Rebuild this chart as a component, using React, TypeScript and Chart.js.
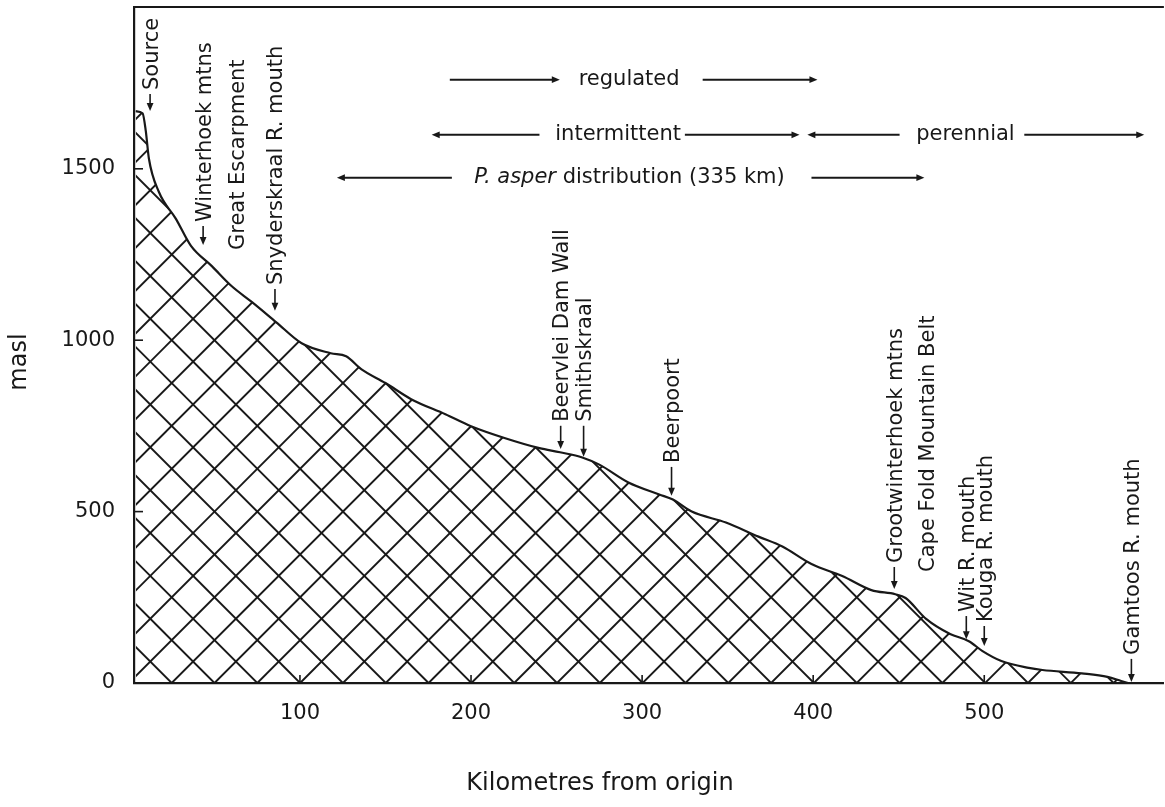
import React, { useEffect, useRef } from "react";
import { Chart, registerables } from "chart.js";
Chart.register(...registerables);

// River long profile (km from origin, metres above sea level)
const profileKm = [4, 8, 9.9, 11.7, 17.5, 27.5, 36.3, 48.5, 60, 72, 86, 101, 118, 127, 136, 150, 165, 185, 200, 220, 240, 252, 265, 275, 292, 310, 318, 329, 349, 368, 382, 399, 417, 434, 448, 454, 466, 480, 491, 499, 510, 526, 534, 557, 572, 580, 584];
const profileElev = [1668, 1662, 1610, 1530, 1433, 1354, 1275, 1216, 1158, 1111, 1053, 991, 962, 953, 915, 875, 828, 784, 749, 714, 685, 673, 658, 637, 585, 550, 535, 500, 468, 427, 398, 347, 312, 271, 259, 248, 187, 143, 122, 93, 64, 44, 38, 28, 18, 6, 0];

const xTicks = [100, 200, 300, 400, 500];
const yTicks = [0, 500, 1000, 1500];

// Site labels (rotated), arrow tip elevation (null = no arrow), text start elevation
const siteLabels = ["Source", "Winterhoek mtns", "Great Escarpment", "Snyderskraal R. mouth", "Beervlei Dam Wall", "Smithskraal", "Beerpoort", "Grootwinterhoek mtns", "Cape Fold Mountain Belt", "Wit R. mouth", "Kouga R. mouth", "Gamtoos R. mouth"];
const siteKm = [12.4, 43.4, 62.8, 85.4, 252.4, 265.8, 317.2, 447.4, 466, 489.5, 500, 586];
const siteTipElev: (number | null)[] = [1666, 1275, null, 1083, 680, 657, 543, 271, null, 125, 105, 0];
const siteTextElev = [1730, 1345, 1263, 1161, 762, 762, 642, 350, 324, 207, 178, 82];

// Range annotations at the top
const rangeTexts = ["regulated", "intermittent", "perennial", "distribution (335 km)"];
const rangeItalicPrefix = ["", "", "", "P. asper "];
const rangeTextKm = [292.4, 286, 489, 292.6];
const rangeTextElev = [1760, 1599, 1599, 1474];
const rangeArrowFromKm = [187.6, 335.4, 240, 325, 450.5, 523.4, 188.8, 399];
const rangeArrowToKm = [251.9, 402.5, 177, 392, 396.6, 593.5, 121.6, 465];
const rangeArrowElev = [1760, 1760, 1599, 1599, 1599, 1599, 1474, 1474];

const INK = "#181818";
const FONT = "'DejaVu Sans', sans-serif";

function arrow(ctx: CanvasRenderingContext2D, x1: number, y1: number, x2: number, y2: number) {
  const ang = Math.atan2(y2 - y1, x2 - x1);
  const hl = 8, hw = 3.4;
  ctx.beginPath();
  ctx.moveTo(x1, y1);
  ctx.lineTo(x2 - Math.cos(ang) * (hl - 1), y2 - Math.sin(ang) * (hl - 1));
  ctx.stroke();
  ctx.beginPath();
  ctx.moveTo(x2, y2);
  ctx.lineTo(x2 - Math.cos(ang) * hl - Math.sin(ang) * hw, y2 - Math.sin(ang) * hl + Math.cos(ang) * hw);
  ctx.lineTo(x2 - Math.cos(ang) * hl + Math.sin(ang) * hw, y2 - Math.sin(ang) * hl - Math.cos(ang) * hw);
  ctx.closePath();
  ctx.fill();
}

const decorPlugin = {
  id: "decor",
  afterDraw(chart: any) {
    const ctx: CanvasRenderingContext2D = chart.ctx;
    const xs = chart.scales.x, ys = chart.scales.y;
    const ca = chart.chartArea;
    ctx.save();
    ctx.strokeStyle = INK;
    ctx.fillStyle = INK;
    // top border
    ctx.lineWidth = 2;
    ctx.beginPath();
    ctx.moveTo(ca.left - 1, ca.top);
    ctx.lineTo(ca.right, ca.top);
    ctx.stroke();
    // inward ticks
    ctx.lineWidth = 1.6;
    xTicks.forEach((v) => {
      const x = xs.getPixelForValue(v);
      ctx.beginPath();
      ctx.moveTo(x, ca.bottom);
      ctx.lineTo(x, ca.bottom - 8);
      ctx.stroke();
    });
    yTicks.forEach((v) => {
      if (v === 0) return;
      const y = ys.getPixelForValue(v);
      ctx.beginPath();
      ctx.moveTo(ca.left, y);
      ctx.lineTo(ca.left + 9, y);
      ctx.stroke();
    });

    // site labels
    ctx.font = `21px ${FONT}`;
    siteLabels.forEach((lab, i) => {
      const x = xs.getPixelForValue(siteKm[i]);
      const yText = ys.getPixelForValue(siteTextElev[i]);
      const tip = siteTipElev[i];
      if (tip !== null) {
        ctx.lineWidth = 1.6;
        arrow(ctx, x, yText + 4, x, ys.getPixelForValue(tip) - 1);
      }
      ctx.save();
      ctx.translate(x + 2, yText);
      ctx.rotate(-Math.PI / 2);
      ctx.textAlign = "left";
      ctx.textBaseline = "middle";
      ctx.fillText(lab, 0, 0);
      ctx.restore();
    });

    // range arrows
    ctx.lineWidth = 2;
    rangeArrowFromKm.forEach((f, i) => {
      const y = ys.getPixelForValue(rangeArrowElev[i]);
      arrow(ctx, xs.getPixelForValue(f), y, xs.getPixelForValue(rangeArrowToKm[i]), y);
    });
    // range texts
    ctx.textBaseline = "middle";
    ctx.textAlign = "left";
    rangeTexts.forEach((t, i) => {
      const pre = rangeItalicPrefix[i];
      ctx.font = `italic 21px ${FONT}`;
      const wPre = pre ? ctx.measureText(pre).width : 0;
      ctx.font = `21px ${FONT}`;
      const wMain = ctx.measureText(t).width;
      const cx = xs.getPixelForValue(rangeTextKm[i]);
      const y = ys.getPixelForValue(rangeTextElev[i]);
      let x0 = cx - (wPre + wMain) / 2;
      if (pre) {
        ctx.font = `italic 21px ${FONT}`;
        ctx.fillText(pre, x0, y);
        x0 += wPre;
        ctx.font = `21px ${FONT}`;
      }
      ctx.fillText(t, x0, y);
    });

    // axis titles
    ctx.font = `24px ${FONT}`;
    ctx.textAlign = "center";
    ctx.textBaseline = "alphabetic";
    ctx.fillText("Kilometres from origin", 600, 790);
    ctx.save();
    ctx.translate(20, 362);
    ctx.rotate(-Math.PI / 2);
    ctx.textBaseline = "middle";
    ctx.fillText("masl", 0, 0);
    ctx.restore();
    ctx.restore();
  },
};

function makeHatch(chart: any): CanvasPattern | string {
  const xs = chart.scales.x, ys = chart.scales.y;
  const W = chart.width, H = chart.height;
  const c = document.createElement("canvas");
  c.width = W;
  c.height = H;
  const g = c.getContext("2d");
  if (!g) return "transparent";
  const x0 = xs.getPixelForValue(0);
  const y0 = ys.getPixelForValue(0);
  const px = xs.getPixelForValue(25) - x0;
  const py = y0 - ys.getPixelForValue(125);
  const k = px / py;
  g.strokeStyle = INK;
  g.lineWidth = 1.9;
  for (let n = -60; n <= 60; n++) {
    const bx = x0 + n * px;
    g.beginPath();
    g.moveTo(bx + (y0 - 0) * k, 0);
    g.lineTo(bx + (y0 - H) * k, H);
    g.stroke();
    g.beginPath();
    g.moveTo(bx - (y0 - 0) * k, 0);
    g.lineTo(bx - (y0 - H) * k, H);
    g.stroke();
  }
  return chart.ctx.createPattern(c, "no-repeat") || "transparent";
}

export default function App() {
  const ref = useRef<HTMLCanvasElement | null>(null);
  useEffect(() => {
    document.body.style.margin = "0";
    document.body.style.background = "#ffffff";
    const canvas = ref.current;
    if (!canvas) return;
    const tickFont = { family: FONT, size: 21 };
    const chart = new Chart(canvas, {
      type: "line",
      data: {
        datasets: [
          {
            data: profileKm.map((x, i) => ({ x, y: profileElev[i] })),
            borderColor: INK,
            borderWidth: 2.2,
            pointRadius: 0,
            fill: "origin",
            backgroundColor: "transparent",
            cubicInterpolationMode: "monotone",
          },
        ],
      },
      options: {
        responsive: false,
        animation: false,
        devicePixelRatio: 1,
        layout: { padding: { top: 7, left: 0, right: 0, bottom: 0 } },
        plugins: { legend: { display: false }, tooltip: { enabled: false } },
        scales: {
          x: {
            type: "linear",
            min: 3,
            max: 605,
            grid: { display: false },
            border: { display: true, color: INK, width: 2.2 },
            ticks: { font: tickFont, color: INK, padding: 10, maxRotation: 0, autoSkip: false, callback: (v: any) => String(v) },
            afterBuildTicks: (s: any) => {
              s.ticks = xTicks.map((v) => ({ value: v }));
            },
            afterFit: (s: any) => {
              s.height = 124;
              s.paddingLeft = 0;
              s.paddingRight = 0;
            },
          },
          y: {
            type: "linear",
            min: 0,
            max: 1972,
            grid: { display: false },
            border: { display: true, color: INK, width: 2.2 },
            ticks: { font: tickFont, color: INK, padding: 11, autoSkip: false, callback: (v: any) => String(v) },
            afterBuildTicks: (s: any) => {
              s.ticks = yTicks.map((v) => ({ value: v }));
            },
            afterFit: (s: any) => {
              s.width = 134;
              s.paddingTop = 0;
              s.paddingBottom = 0;
            },
          },
        },
      } as any,
      plugins: [decorPlugin],
    });
    (chart.data.datasets[0] as any).backgroundColor = makeHatch(chart);
    chart.update("none");
    return () => chart.destroy();
  }, []);
  return <canvas ref={ref} width={1165} height={807} style={{ display: "block" }} />;
}
